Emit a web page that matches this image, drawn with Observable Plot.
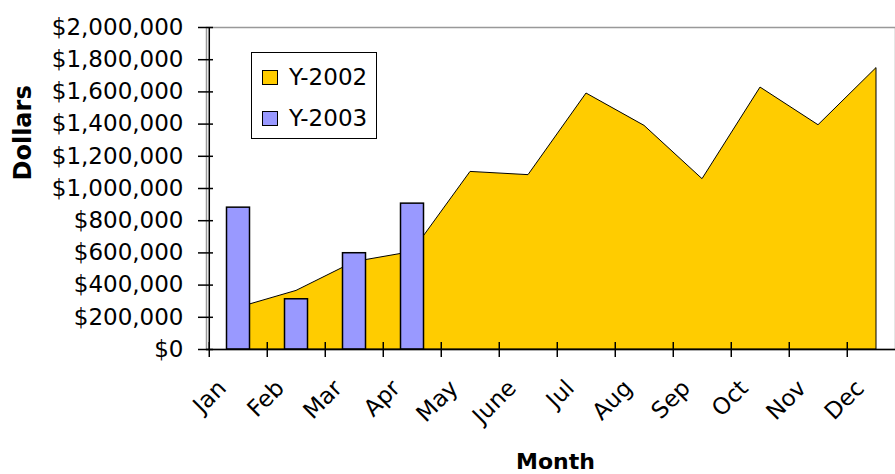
<!DOCTYPE html>
<html><head><meta charset="utf-8">
<script src="https://cdn.jsdelivr.net/npm/d3@7"></script>
<script src="https://cdn.jsdelivr.net/npm/@observablehq/plot@0.6"></script>
<style>
html,body{margin:0;padding:0;background:#fff;}
#wrap{position:relative;width:895px;height:474px;overflow:hidden;background:#fff;}
#legend{position:absolute;left:251px;top:52px;width:124px;height:85px;border:1.5px solid #000;background:#fff;font-family:"DejaVu Sans",sans-serif;font-size:23px;color:#000;}
.item{position:absolute;left:10px;height:28px;display:flex;align-items:center;gap:11px;white-space:nowrap;}
.sw{width:14px;height:13px;border:1px solid #000;}
</style></head>
<body><div id="wrap"></div>
<script>
const months = ["Jan","Feb","Mar","Apr","May","June","Jul","Aug","Sep","Oct","Nov","Dec"];
const y2002 = [259000, 364000, 543000, 606000, 1103000, 1083000, 1590000, 1389000, 1058000, 1627000, 1393000, 1748000];
const y2003 = [881000, 312000, 598000, 906000];
const yTicks = [0, 200000, 400000, 600000, 800000, 1000000, 1200000, 1400000, 1600000, 1800000, 2000000];
const seriesNames = ["Y-2002", "Y-2003"];
const seriesColors = ["#FFCC00", "#9999FF"];

const W = 895, H = 474, left = 206, right = 907.4;
const step = (right - left) / months.length;
const areaData = months.map((m, i) => ({month: m, value: y2002[i]}));
const barData = y2003.map((v, i) => ({month: months[i], value: v}));

const chart = Plot.plot({
  width: W, height: H,
  marginLeft: left, marginRight: 0, marginTop: 27, marginBottom: 125,
  style: {fontFamily: '"DejaVu Sans", sans-serif', fontSize: "23px", color: "#000", background: "#fff"},
  x: {type: "band", domain: months, range: [left, right], padding: 0, axis: null, label: null},
  y: {domain: [0, 2000000], axis: null, label: null},
  marks: [
    Plot.frame({stroke: "#999", strokeWidth: 1.5}),
    Plot.areaY(areaData, {x: "month", y: "value", fill: seriesColors[0], stroke: "#000", strokeWidth: 1}),
    Plot.barY(barData, {x: "month", y: "value", fill: seriesColors[1], stroke: "#000", strokeWidth: 1.5, insetLeft: 17.5, insetRight: 17.5}),
    Plot.ruleY([0], {stroke: "#000", strokeWidth: 1.5}),
    Plot.ruleX([months[0]], {dx: -step / 2, stroke: "#000", strokeWidth: 1.5}),
    Plot.axisY({ticks: yTicks, label: null, tickSize: 8, tickPadding: 15, tickFormat: d => "$" + d3.format(",")(d), fontSize: 23, strokeWidth: 1.5}),
    Plot.axisY({ticks: yTicks, label: null, tickSize: -7, text: null, strokeWidth: 1.5}),
    Plot.axisX({ticks: months, label: null, tickSize: 8, text: null, dx: -step / 2, strokeWidth: 1.5}),
    Plot.axisX({ticks: months, label: null, tickSize: -7, text: null, dx: -step / 2, strokeWidth: 1.5}),
    Plot.text(months, {x: d => d, frameAnchor: "bottom", rotate: -45, textAnchor: "end", lineAnchor: "bottom", dx: -11, dy: 40, fontSize: 23}),
    Plot.text(["Dollars"], {frameAnchor: "left", rotate: -90, dx: -183, dy: -8, fontWeight: "bold", fontSize: 24}),
    Plot.text(["Month"], {frameAnchor: "bottom", dy: 119, dx: 4.5, lineAnchor: "bottom", fontWeight: "bold", fontSize: 22})
  ]
});

const wrap = document.getElementById("wrap");
wrap.appendChild(chart);
const legend = document.createElement("div");
legend.id = "legend";
seriesNames.forEach((name, i) => {
  const item = document.createElement("div");
  item.className = "item";
  item.style.top = (10 + i * 41) + "px";
  const sw = document.createElement("div");
  sw.className = "sw";
  sw.style.background = seriesColors[i];
  const t = document.createElement("span");
  t.textContent = name;
  item.appendChild(sw);
  item.appendChild(t);
  legend.appendChild(item);
});
wrap.appendChild(legend);
</script>
</body></html>
